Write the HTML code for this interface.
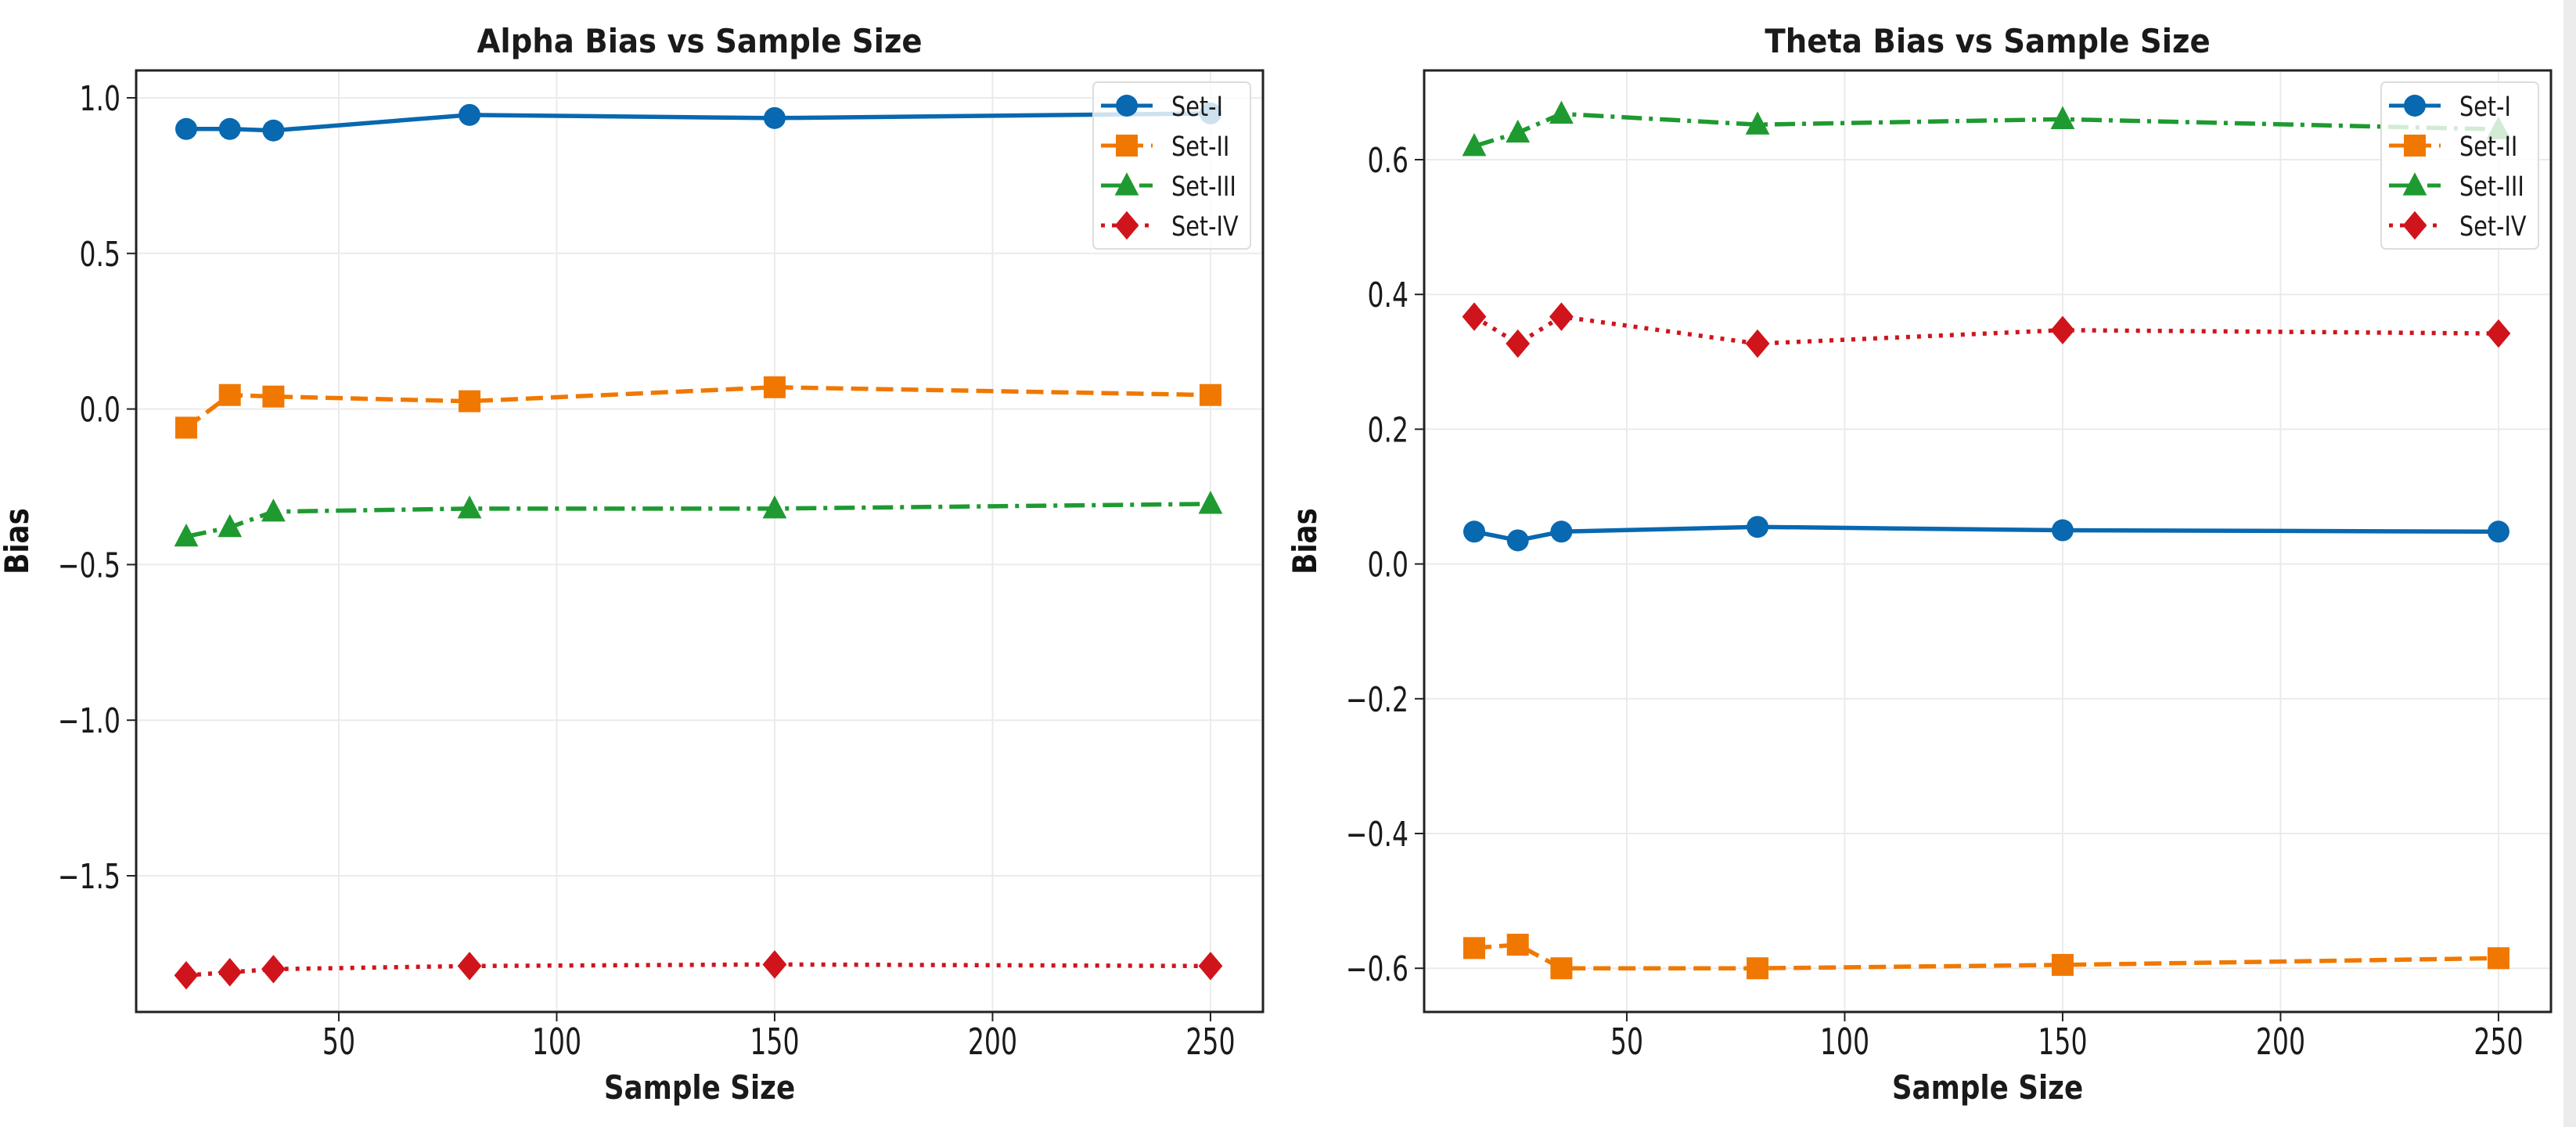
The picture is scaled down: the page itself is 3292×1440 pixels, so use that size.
<!DOCTYPE html>
<html><head><meta charset="utf-8"><style>
html,body{margin:0;padding:0;background:#fff;}
svg{display:block;font-family:"DejaVu Sans","Liberation Sans",sans-serif;}
</style></head><body>
<svg id="chart" width="3292" height="1440" viewBox="0 0 3292 1440" xmlns="http://www.w3.org/2000/svg">
<rect x="3276" y="0" width="16" height="1440" fill="#ececec"/>
</svg>
<script>
const xValues = [15, 25, 35, 80, 150, 250];
const seriesNames = ["Set-I", "Set-II", "Set-III", "Set-IV"];
const alphaSet1 = [0.90, 0.90, 0.895, 0.945, 0.935, 0.95];
const alphaSet2 = [-0.06, 0.045, 0.04, 0.025, 0.07, 0.045];
const alphaSet3 = [-0.41, -0.38, -0.33, -0.32, -0.32, -0.305];
const alphaSet4 = [-1.82, -1.81, -1.80, -1.79, -1.785, -1.79];
const thetaSet1 = [0.048, 0.035, 0.048, 0.055, 0.05, 0.048];
const thetaSet2 = [-0.57, -0.565, -0.60, -0.60, -0.595, -0.585];
const thetaSet3 = [0.62, 0.64, 0.668, 0.652, 0.66, 0.645];
const thetaSet4 = [0.367, 0.327, 0.367, 0.327, 0.347, 0.342];
const xTicks = [50, 100, 150, 200, 250];
const alphaYTicks = [1.0, 0.5, 0.0, -0.5, -1.0, -1.5];
const alphaYLabels = ["1.0", "0.5", "0.0", "\u22120.5", "\u22121.0", "\u22121.5"];
const thetaYTicks = [0.6, 0.4, 0.2, 0.0, -0.2, -0.4, -0.6];
const thetaYLabels = ["0.6", "0.4", "0.2", "0.0", "\u22120.2", "\u22120.4", "\u22120.6"];

const NS = "http://www.w3.org/2000/svg";
const svg = document.getElementById("chart");
const colors = ["#0868b0", "#f07800", "#1e9a30", "#d0141c"];
const dashes = ["none", "22 10", "26 9 5 9", "5 9"];
const markers = ["circle", "square", "triangle", "diamond"];

function mk(tag, attrs, parent) {
  const e = document.createElementNS(NS, tag);
  for (const k in attrs) e.setAttribute(k, attrs[k]);
  (parent || svg).appendChild(e);
  return e;
}
function txt(parent, x, y, s, size, anchor, sx, bold) {
  const t = mk("text", {x: 0, y: 0, "text-anchor": anchor, "font-size": size, fill: "#1a1a1a",
    transform: `translate(${x} ${y}) scale(${sx} 1)`}, parent);
  if (bold) t.setAttribute("font-weight", "bold");
  t.textContent = s;
  return t;
}

function marker(g, type, cx, cy, col, s) {
  let e;
  if (type === "circle") e = mk("circle", {cx: cx, cy: cy, r: s}, g);
  else if (type === "square") e = mk("rect", {x: cx - s, y: cy - s, width: 2 * s, height: 2 * s}, g);
  else if (type === "triangle") e = mk("polygon", {points: `${cx},${cy - s * 1.2} ${cx - s * 1.1},${cy + s * 0.9} ${cx + s * 1.1},${cy + s * 0.9}`}, g);
  else e = mk("polygon", {points: `${cx},${cy - s * 1.3} ${cx + s * 1.1},${cy} ${cx},${cy + s * 1.3} ${cx - s * 1.1},${cy}`}, g);
  e.setAttribute("fill", col);
  return e;
}

function drawPanel(p) {
  const L = p.left, R = p.left + 1440, T = 90, B = 1293;
  const xs = v => p.x0 + (v - 15) * 5.57;
  const ys = v => p.yRef + (p.vRef - v) * p.pxPerUnit;
  const g = mk("g", {});
  
  
  xTicks.forEach(t => {
    const gl = mk("line", {x1: xs(t), x2: xs(t), y1: T, y2: B, stroke: "#ebebeb", "stroke-width": 2}, g);
    
    
  });
  p.yTicks.forEach(t => {
    const gl = mk("line", {x1: L, x2: R, y1: ys(t), y2: ys(t), stroke: "#ebebeb", "stroke-width": 2}, g);
    
    
  });
  p.series.forEach((vals, i) => {
    const sg = mk("g", {}, g);
    
    
    const pts = vals.map((v, j) => xs(xValues[j]) + "," + ys(v)).join(" ");
    const pl = mk("polyline", {points: pts, fill: "none", stroke: colors[i], "stroke-width": 5.5, "stroke-dasharray": dashes[i]}, sg);
    
    
    vals.forEach((v, j) => {
      const m = marker(sg, markers[i], xs(xValues[j]), ys(v), colors[i], 14);
      
      
    });
  });
  const fr = mk("rect", {x: L, y: T, width: R - L, height: B - T, fill: "none", stroke: "#222", "stroke-width": 3}, g);
  
  
  xTicks.forEach(t => {
    mk("line", {x1: xs(t), x2: xs(t), y1: B, y2: B + 12, stroke: "#222", "stroke-width": 2}, g);
    const tx = txt(g, xs(t), 1347, String(t), 46, "middle", 0.72, false);
    
    
  });
  p.yTicks.forEach((t, k) => {
    mk("line", {x1: L - 12, x2: L, y1: ys(t), y2: ys(t), stroke: "#222", "stroke-width": 2}, g);
    const tx = txt(g, L - 20, ys(t) + 16, p.yLabels[k], 44, "end", 0.75, false);
    
    
  });
  const tt = txt(g, (L + R) / 2, 67, p.title, 42, "middle", 0.92, true);
  
  
  const xl = txt(g, (L + R) / 2, 1404, "Sample Size", 42, "middle", 0.85, true);
  
  
  const yx = L - 138, yy = (T + B) / 2;
  const yl = mk("text", {x: 0, y: 0, "text-anchor": "middle", "font-size": 42, "font-weight": "bold", fill: "#111",
    transform: `translate(${yx} ${yy}) rotate(-90) scale(0.85 1)`}, g);
  yl.textContent = "Bias";
  
  
  const lg = mk("g", {}, g);
  
  
  mk("rect", {x: L + 1223, y: 105, width: 201, height: 213, rx: 6, fill: "#fff", "fill-opacity": 0.8, stroke: "#dddddd", "stroke-width": 2}, lg);
  seriesNames.forEach((n, i) => {
    const y = 135 + i * 51;
    const le = mk("g", {}, lg);
    
    
    mk("line", {x1: L + 1233, x2: L + 1299, y1: y, y2: y, stroke: colors[i], "stroke-width": 5, "stroke-dasharray": dashes[i]}, le);
    marker(le, markers[i], L + 1266, y, colors[i], 14);
    txt(le, L + 1323, y + 13, n, 35, "start", 0.82, false);
  });
}

drawPanel({name: "alpha-bias-panel", title: "Alpha Bias vs Sample Size", left: 174, x0: 238,
  yRef: 125, vRef: 1.0, pxPerUnit: 397.6, yTicks: alphaYTicks, yLabels: alphaYLabels,
  series: [alphaSet1, alphaSet2, alphaSet3, alphaSet4]});
drawPanel({name: "theta-bias-panel", title: "Theta Bias vs Sample Size", left: 1820, x0: 1884,
  yRef: 204, vRef: 0.6, pxPerUnit: 861, yTicks: thetaYTicks, yLabels: thetaYLabels,
  series: [thetaSet1, thetaSet2, thetaSet3, thetaSet4]});
</script>
</body></html>
